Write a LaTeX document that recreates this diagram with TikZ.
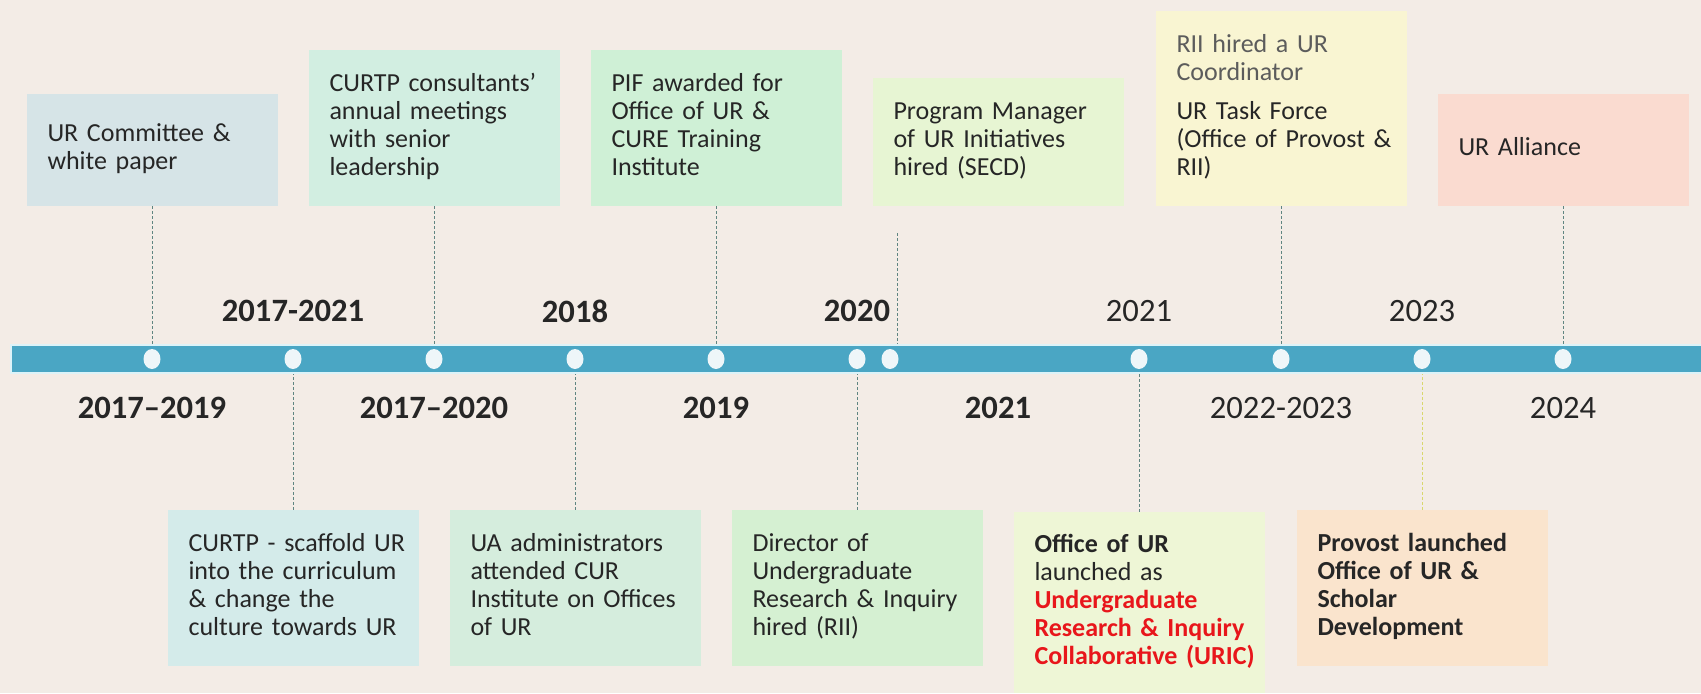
\documentclass[tikz,border=0pt]{standalone}
\usepackage{fontspec}
\setmainfont{Carlito}
\usetikzlibrary{shapes.geometric}
\definecolor{bgc}{HTML}{F3ECE6}
\definecolor{txt}{HTML}{262626}
\definecolor{graytxt}{HTML}{5C5C5C}
\definecolor{barc}{HTML}{4AA6C4}
\definecolor{barline}{HTML}{DDF3F8}
\definecolor{dotc}{HTML}{EEF6F9}
\definecolor{dashc}{HTML}{5F8581}
\definecolor{yelc}{HTML}{D9D86E}
\definecolor{urred}{HTML}{E8161B}
\definecolor{ct1}{HTML}{D6E4E7}
\definecolor{ct2}{HTML}{D2EEE1}
\definecolor{ct3}{HTML}{CFF0D6}
\definecolor{ct4}{HTML}{E7F5D3}
\definecolor{ct5}{HTML}{F9F5D2}
\definecolor{ct6}{HTML}{FADBD0}
\definecolor{cb1}{HTML}{D4EBEA}
\definecolor{cb2}{HTML}{D5EDDD}
\definecolor{cb3}{HTML}{D5F0D2}
\definecolor{cb4}{HTML}{EEF6D6}
\definecolor{cb5}{HTML}{FAE4CD}
\newcommand{\blines}[1]{\begin{tabular}{@{}l@{}}#1\end{tabular}}
\begin{document}
\begin{tikzpicture}[x=0.5pt,y=-0.5pt,
  box/.style={draw=none, inner xsep=10.5pt, inner ysep=0pt, text width=104.5pt,
    minimum width=125.5pt, align=left, font=\fontsize{13}{14}\selectfont, text=txt},
  yr/.style={font=\fontsize{16.3}{18}\selectfont, text=txt, inner sep=0pt},
  yrb/.style={font=\fontsize{16.3}{18}\selectfont\bfseries, text=txt, inner sep=0pt},
  dot/.style={ellipse, fill=dotc, minimum width=8.5pt, minimum height=10pt, inner sep=0pt},
  conn/.style={draw=dashc, line width=0.5pt, dash pattern=on 1.5pt off 1pt}]
\useasboundingbox (0,0) rectangle (1701,693);
\fill[bgc] (0,0) rectangle (1701,693);

% timeline bar
\node[draw=barline, line width=1pt, fill=barc, minimum width=849.5pt, minimum height=14pt, inner sep=0pt] (bar) at (860.5,359) {};

% dots
\foreach \n/\x in {1/152,2/293,3/434,4/575,5/716,6/857,7/890,8/1139,9/1281,10/1422,11/1563}
  \node[dot] (d\n) at (\x,359) {};

% top boxes
\node[box, fill=ct1, minimum height=56pt] (t1) at (152,150) {\blines{UR Committee \&\\white paper}};
\node[box, fill=ct2, minimum height=78pt] (t2) at (434,128) {\blines{CURTP consultants’\\annual meetings\\with senior\\leadership}};
\node[box, fill=ct3, minimum height=78pt] (t3) at (716,128) {\blines{PIF awarded for\\Office of UR \&\\CURE Training\\Institute}};
\node[box, fill=ct4, minimum height=64pt] (t4) at (998,142) {\blines{Program Manager\\of UR Initiatives\\hired (SECD)}};
\node[box, fill=ct5, minimum height=97.5pt] (t5) at (1281,108.5) {\blines{\textcolor{graytxt}{RII hired a UR}\\\textcolor{graytxt}{Coordinator}\\[5.5pt]UR Task Force\\(Office of Provost \&\\RII)}};
\node[box, fill=ct6, minimum height=56pt] (t6) at (1563,150) {\blines{UR Alliance}};

% bottom boxes
\node[box, fill=cb1, minimum height=78pt] (b1) at (293,588) {\blines{CURTP - scaffold UR\\into the curriculum\\\& change the\\culture towards UR}};
\node[box, fill=cb2, minimum height=78pt] (b2) at (575,588) {\blines{UA administrators\\attended CUR\\Institute on Offices\\of UR}};
\node[box, fill=cb3, minimum height=78pt] (b3) at (857,588) {\blines{Director of\\Undergraduate\\Research \& Inquiry\\hired (RII)}};
\node[box, fill=cb4, minimum height=90.5pt] (b4) at (1139,602.5) {\blines{\textbf{Office of UR}\\launched as\\\textcolor{urred}{\textbf{Undergraduate}}\\\textcolor{urred}{\textbf{Research \& Inquiry}}\\\textcolor{urred}{\textbf{Collaborative (URIC)}}}};
\node[box, fill=cb5, minimum height=78pt] (b5) at (1422,588) {\blines{\textbf{Provost launched}\\\textbf{Office of UR \&}\\\textbf{Scholar}\\\textbf{Development}}};

% year labels above
\node[yrb] (ya1) at (293,311) {2017-2021};
\node[yrb] (ya2) at (575,311) {2018};
\node[yrb] (ya3) at (857,311) {2020};
\node[yr]  (ya4) at (1139,311) {2021};
\node[yr]  (ya5) at (1422,311) {2023};
% year labels below
\node[yrb] (yb1) at (152,408) {2017–2019};
\node[yrb] (yb2) at (434,408) {2017–2020};
\node[yrb] (yb3) at (716,408) {2019};
\node[yrb] (yb4) at (998,408) {2021};
\node[yr]  (yb5) at (1281,408) {2022-2023};
\node[yr]  (yb6) at (1563,408) {2024};

% connectors top
\foreach \t in {t1,t2,t3,t5,t6}
  \draw[conn] (\t.south) -- (\t.south |- bar.north);
\coordinate (pmtop) at (897,233);
\draw[conn] (pmtop) -- (pmtop |- bar.north);
% connectors bottom
\foreach \b in {b1,b2,b3,b4}
  \draw[conn] (\b.north) -- (\b.north |- bar.south);
\draw[draw=yelc, line width=0.5pt, dash pattern=on 1.5pt off 1pt] (b5.north) -- (b5.north |- bar.south);
\end{tikzpicture}
\end{document}
